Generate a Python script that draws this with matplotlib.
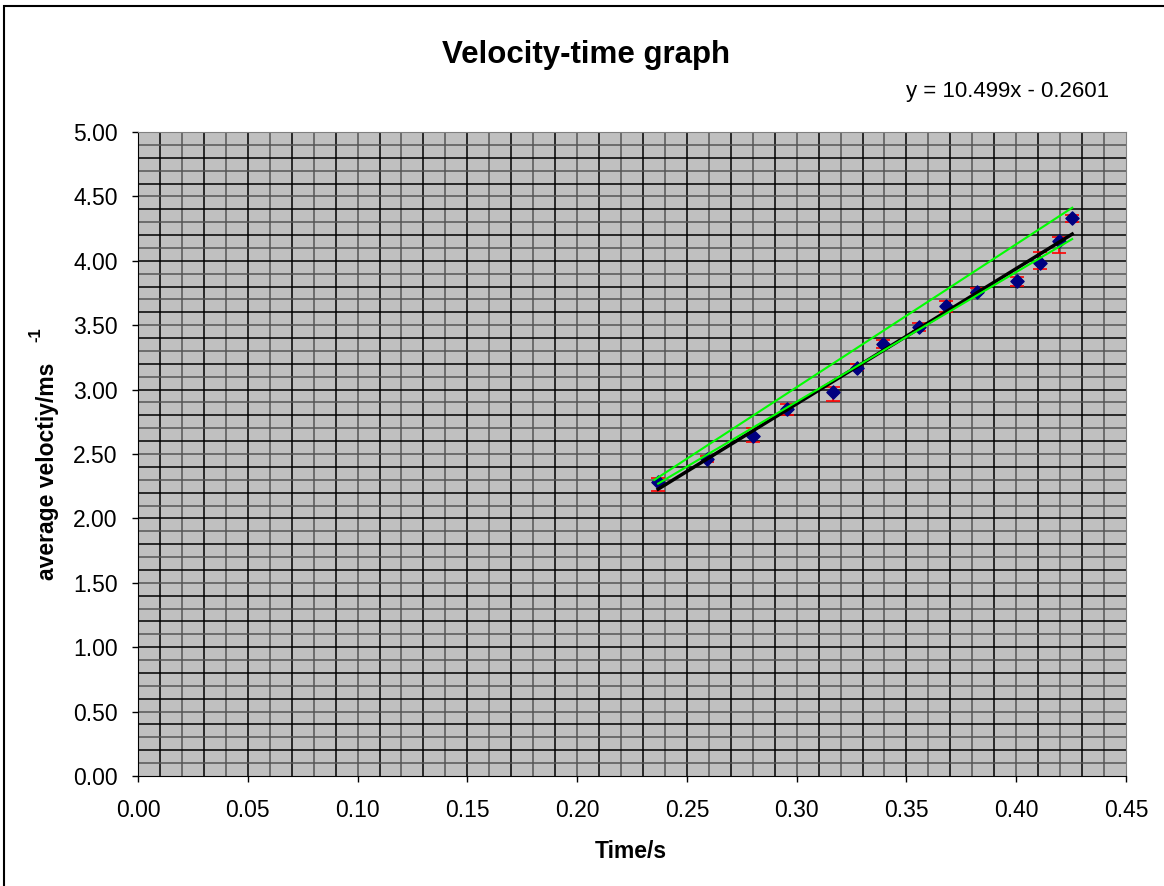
import matplotlib.pyplot as plt
from matplotlib.patches import Rectangle
import numpy as np

# measured data
time_s = [0.2369, 0.2593, 0.2802, 0.2954, 0.3166, 0.3277, 0.3394,
          0.3558, 0.3679, 0.3822, 0.4004, 0.4107, 0.4194, 0.4255]
velocity = [2.280, 2.461, 2.640, 2.847, 2.979, 3.170, 3.354,
            3.484, 3.649, 3.760, 3.841, 3.985, 4.154, 4.330]
err_low = [0.07, 0.02, 0.05, 0.044, 0.065, 0.02, 0.03,
           0.03, 0.05, 0.012, 0.036, 0.051, 0.096, 0.031]
err_high = [0.03, 0.02, 0.064, 0.04, 0.044, 0.03, 0.03,
            0.035, 0.04, 0.025, 0.036, 0.086, 0.033, 0.023]

# best fit y = 10.499x - 0.2601
slope = 10.499
intercept = -0.2601

# max / min gradient lines (end points)
max_x = [0.2351, 0.4255]
max_y = [2.298, 4.412]
min_x = [0.2369, 0.4255]
min_y = [2.270, 4.169]

xticks = [0.00, 0.05, 0.10, 0.15, 0.20, 0.25, 0.30, 0.35, 0.40, 0.45]
yticks = [0.00, 0.50, 1.00, 1.50, 2.00, 2.50, 3.00, 3.50, 4.00, 4.50, 5.00]

plt.rcParams['font.family'] = ['Liberation Sans', 'DejaVu Sans']

fig = plt.figure(figsize=(11.64, 8.86), dpi=100)
ax = fig.add_axes([138 / 1164, 1 - 776 / 886, (1126 - 138) / 1164, (776 - 132) / 886])
ax.set_facecolor('#c0c0c0')

# grid: alternating dark grey / black lines
for i, gx in enumerate(np.arange(0.01, 0.45, 0.01)):
    ax.axvline(gx, color='black' if i % 2 == 0 else '#555555', lw=1.1, zorder=1)
for i, gy in enumerate(np.arange(0.1, 5.0, 0.1)):
    ax.axhline(gy, color='#555555' if i % 2 == 0 else 'black', lw=1.1, zorder=1)

ax.errorbar(time_s, velocity, yerr=[err_low, err_high], fmt='none',
            ecolor='red', elinewidth=1.2, capsize=5, capthick=1.2, zorder=3)
ax.scatter(time_s, velocity, marker='D', s=45, color='#000080', zorder=4)

fx = np.array([time_s[0], time_s[-1]])
ax.plot(fx, slope * fx + intercept, color='black', lw=2.5, zorder=5)
ax.plot(max_x, max_y, color='#00ff00', lw=1.5, zorder=5)
ax.plot(min_x, min_y, color='#00ff00', lw=1.5, zorder=5)

ax.set_xlim(0, 0.45)
ax.set_ylim(0, 5)
ax.set_xticks(xticks)
ax.set_yticks(yticks)
ax.set_xticklabels([f'{v:.2f}' for v in xticks])
ax.set_yticklabels([f'{v:.2f}' for v in yticks])
ax.tick_params(labelsize=16.5, length=4.5, width=1, direction='out', pad=10)
ax.tick_params(axis='x', pad=12)
for s in ax.spines.values():
    s.set_color('#808080')
ax.spines['left'].set_color('black')
ax.spines['bottom'].set_color('black')

fig.text(631 / 1164, 1 - 852 / 886, 'Time/s', fontsize=16.5, fontweight='bold',
         ha='center', va='center')
fig.text(48 / 1164, 1 - 471 / 886, 'average veloctiy/ms', rotation=90, fontsize=16.5,
         fontweight='bold', ha='center', va='center')
fig.text(36 / 1164, 1 - 335 / 886, '-1', rotation=90, fontsize=12,
         fontweight='bold', ha='center', va='center')

fig.text(586 / 1164, 1 - 55 / 886, 'Velocity-time graph', fontsize=22.5,
         fontweight='bold', ha='center', va='center')
fig.text(1008 / 1164, 1 - 92 / 886, 'y = 10.499x - 0.2601', fontsize=16,
         ha='center', va='center')

fig.patches.append(Rectangle((4 / 1164, -0.1), 1.2, 1 - 6 / 886 + 0.1,
                             transform=fig.transFigure, fill=False,
                             edgecolor='black', lw=1.5))

fig.savefig('out.png', dpi=100)
